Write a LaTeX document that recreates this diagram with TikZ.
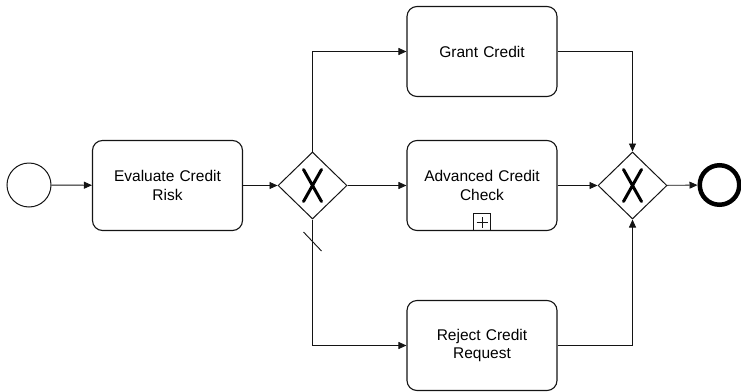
\documentclass[tikz,border=0pt]{standalone}
\usepackage{fontspec}
\setmainfont{Liberation Sans}
\usetikzlibrary{arrows.meta,shapes.geometric,calc}
\definecolor{ink}{RGB}{20,20,20}
\tikzset{
  credit/.style={
    task/.style={draw=ink,line width=1.1pt,rounded corners=10pt,fill=white,
                 minimum width=150pt,minimum height=90pt,text width=140pt,
                 align=center,font=\fontsize{15.5}{18.5}\selectfont},
    flow/.style={-{Triangle[length=8pt,width=7pt]},draw=ink,line width=0.9pt},
    startev/.style={draw=ink,line width=1pt,circle,minimum size=44pt,inner sep=0pt},
    endev/.style={draw=black,line width=4.5pt,circle,minimum size=39.5pt,inner sep=0pt},
    xgw/.style={draw=ink,line width=1pt,diamond,minimum width=69pt,minimum height=67pt,
                inner sep=0pt,fill=white,
                path picture={\draw[black,line width=3pt,line cap=round]
                  ($(path picture bounding box.center)+(-9pt,-16pt)$) -- ++(18pt,32pt)
                  ($(path picture bounding box.center)+(9pt,-16pt)$) -- ++(-18pt,32pt);}},
    subpr/.style={draw=ink,line width=0.9pt,minimum size=17pt,inner sep=0pt,anchor=south}}
}
\begin{document}
\begin{tikzpicture}[credit,x=1pt,y=-1pt]
    \useasboundingbox (0,0) rectangle (741,391);
    \node[startev] (start) at (29,185) {};
    \node[task] (eval) at (167.5,185.5) {Evaluate Credit\\Risk};
    \node[xgw] (gw1) at (312.5,185.5) {};
    \node[task] (grant) at (482,51.5) {Grant Credit};
    \node[task] (adv) at (482,185.5) {Advanced Credit\\Check};
    \node[task] (reject) at (482,345.5) {Reject Credit\\Request};
    \node[xgw] (gw2) at (632.5,185.5) {};
    \node[endev] (end) at (719.5,185) {};
    \node[subpr] (advmark) at (adv.south) {};
    \draw[ink,line width=0.9pt] ($(advmark.center)+(-5.5pt,0)$) -- ++(11pt,0)
      ($(advmark.center)+(0,-5.5pt)$) -- ++(0,11pt);
    \draw[flow] (start) -- (eval);
    \draw[flow] (eval) -- (gw1);
    \draw[flow] (gw1.north) |- (grant);
    \draw[flow] (gw1) -- (adv);
    \draw[flow] (gw1.south) |- (reject);
    \draw[flow] (grant) -| (gw2.north);
    \draw[flow] (adv) -- (gw2);
    \draw[flow] (reject) -| (gw2.south);
    \draw[flow] (gw2) -- (end);
    % default flow marker
    \coordinate (dflt) at ($(gw1.south)+(0,22)$);
    \draw[ink,line width=0.9pt] (dflt) +(-9,-9.5) -- +(9,9.5);
\end{tikzpicture}
\end{document}
